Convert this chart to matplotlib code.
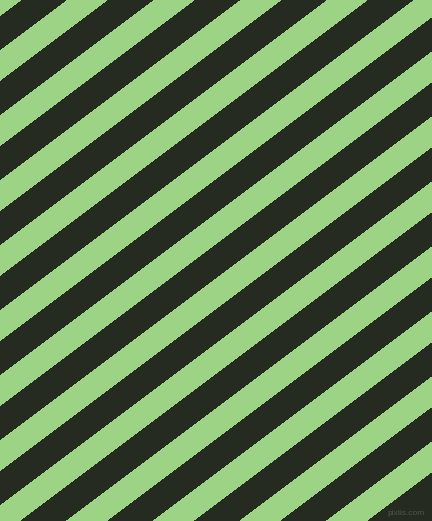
import matplotlib
matplotlib.use('Agg')
import matplotlib.pyplot as plt
from matplotlib.patches import Rectangle

# picture size in pixels
width = 432
height = 521

# colours
green = '#9dd384'
dark = '#252b20'

# dark stripes: where each one starts on the left edge (y, pixels from the top)
darkStarts = [17, 82, 147, 212, 277, 342, 407, 472, 537, 602, 667, 732, 797]
stripeWidth = 32.5      # vertical thickness of a stripe
slope = 0.75            # stripes rise 0.75 px per px to the right

watermark = 'pixlis.com'


def plotStripes():
    fig = plt.figure(figsize=(width / 100, height / 100), dpi=100)
    ax = fig.add_axes([0, 0, 1, 1])
    ax.set_facecolor(green)
    fig.patch.set_facecolor(green)

    xs = [0, width]
    for start in darkStarts:
        top = [start - slope * x for x in xs]
        bottom = [start + stripeWidth - slope * x for x in xs]
        ax.fill_between(xs, top, bottom, color=dark, linewidth=0, antialiased=False)

    # the corner under the watermark is dark in the original
    ax.add_patch(Rectangle((408, 504), width - 408, height - 504,
                           facecolor=dark, edgecolor='none', antialiased=False))
    ax.text(425, 517, watermark, ha='right', va='bottom', fontsize=6,
            family='Liberation Sans', color='#50574a')

    ax.set_xlim(0, width)
    ax.set_ylim(height, 0)
    ax.axis('off')

    plt.savefig('out.png', dpi=100, facecolor=green)
    print('Plot created and saved')


def main():
    plotStripes()


if __name__ == '__main__':
    main()
